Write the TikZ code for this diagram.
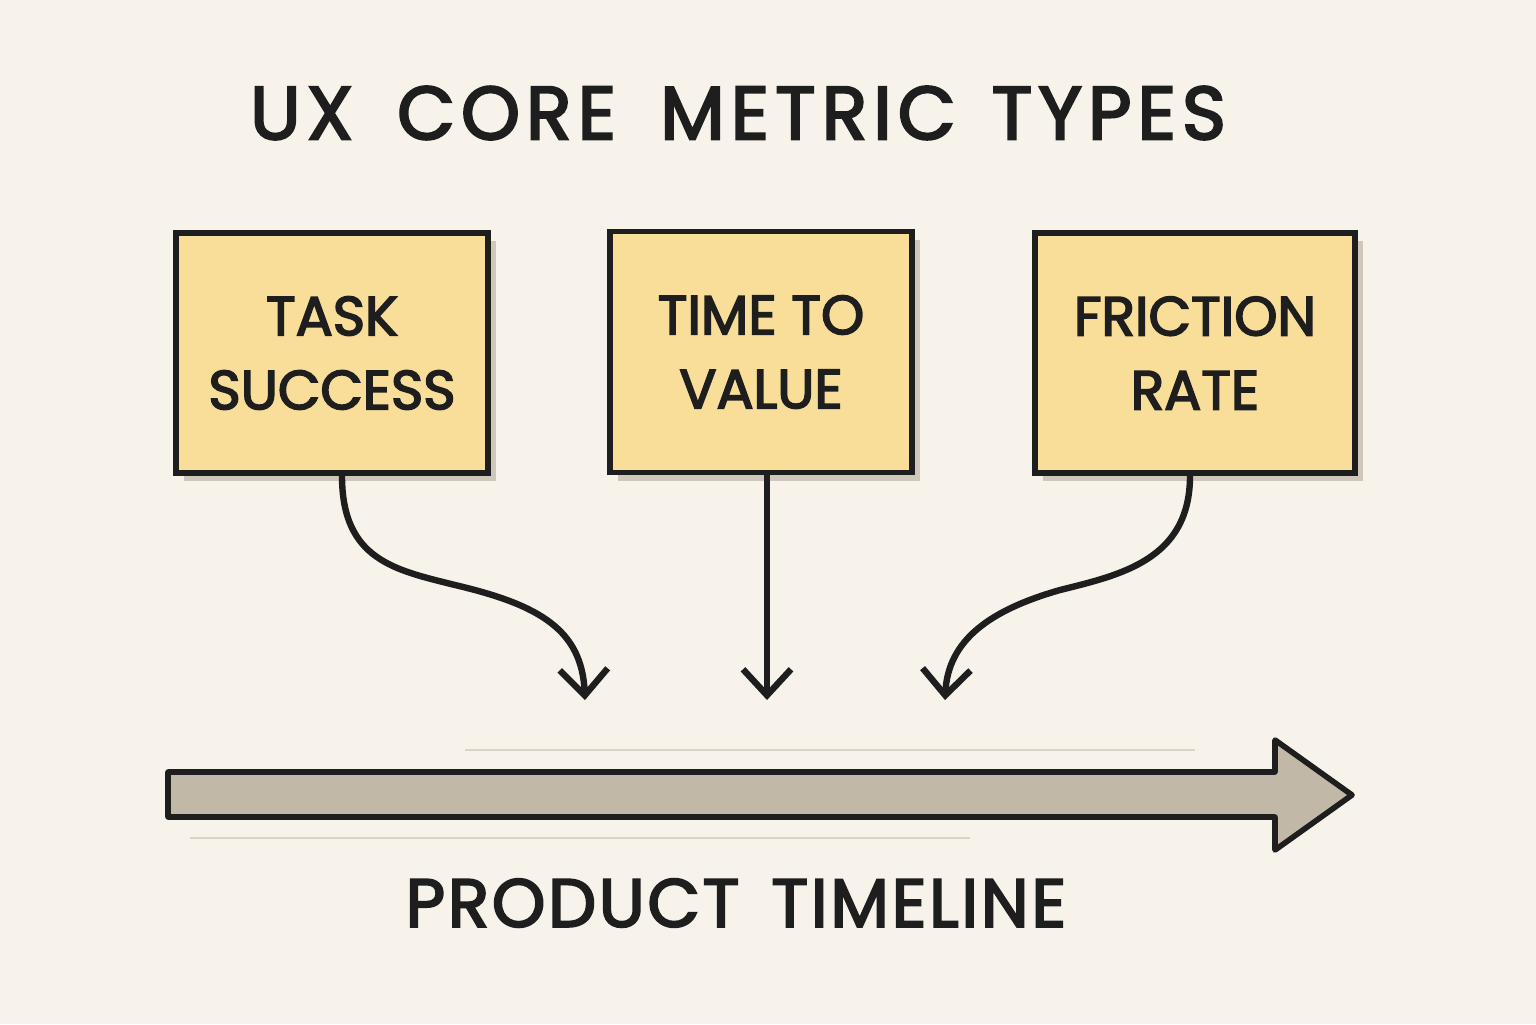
\documentclass[tikz,border=0pt]{standalone}
\usepackage{fontspec}
\setmainfont{Poppins}
\newfontfamily\medfont{Poppins}[FakeBold=3]
\usetikzlibrary{arrows.meta,shadows}
\definecolor{bg}{HTML}{F7F3EA}
\definecolor{card}{HTML}{F8DE98}
\definecolor{ink}{HTML}{1E1E1E}
\definecolor{shade}{HTML}{CFC7BA}
\definecolor{bar}{HTML}{C2B8A8}
\definecolor{faint}{HTML}{DCD3C6}
\tikzset{
  cardbox/.style={draw=ink, line width=2.8pt, fill=card, align=center,
    font=\medfont\fontsize{27.5}{37}\selectfont, text=ink,
    drop shadow={shadow xshift=4pt, shadow yshift=-4pt, fill=shade, opacity=1}},
  flow/.style={draw=ink, line width=3.2pt, line cap=round,
    -{Straight Barb[length=13pt,width=24pt,line width=3.2pt]}},
  label/.style={text=ink}
}
\begin{document}
\begin{tikzpicture}[x=0.5pt,y=-0.5pt]
\fill[bg] (0,0) rectangle (1536,1024);
\useasboundingbox (0,0) rectangle (1536,1024);

\node[label, font=\medfont\fontsize{37.5}{44}\selectfont\addfontfeature{LetterSpace=8}] (title) at (738,113) {UX\hspace{22pt}CORE\hspace{22pt}METRIC\hspace{18pt}TYPES};

\node[cardbox, minimum width=156pt, minimum height=120pt] (b1) at (332,353) {TASK\\SUCCESS};
\node[cardbox, minimum width=151pt, minimum height=120.5pt] (b2) at (761,352) {TIME TO\\VALUE};
\node[cardbox, minimum width=160pt, minimum height=120pt] (b3) at (1195,353) {FRICTION\\RATE};

\coordinate (t1) at (585,700);
\coordinate (t2) at (767,700);
\coordinate (t3) at (945,700);

\draw[flow] ([xshift=5pt]b1.south) .. controls (342,560) and (395,570) .. (455,585)
  .. controls (540,605) and (582,630) .. (t1);
\draw[flow] (b2.south -| t2) -- (t2);
\draw[flow] ([xshift=-2.5pt]b3.south) .. controls (1190,560) and (1120,575) .. (1060,590)
  .. controls (990,610) and (948,640) .. (t3);

\draw[faint, line width=1.2pt] (465,750) -- (1195,750);
\draw[faint, line width=1.2pt] (190,838) -- (970,838);

\coordinate (s0) at (168,772);
\draw[ink, fill=bar, line width=2.8pt, line join=round]
  (s0) -- (1275,772) -- (1275,740) -- (1352,795) -- (1275,850) -- (1275,817) -- (168,817) -- cycle;

\node[label, font=\medfont\fontsize{34}{42}\selectfont\addfontfeature{LetterSpace=4}] (tl) at (736,903) {PRODUCT\hspace{16pt}TIMELINE};
\end{tikzpicture}
\end{document}
